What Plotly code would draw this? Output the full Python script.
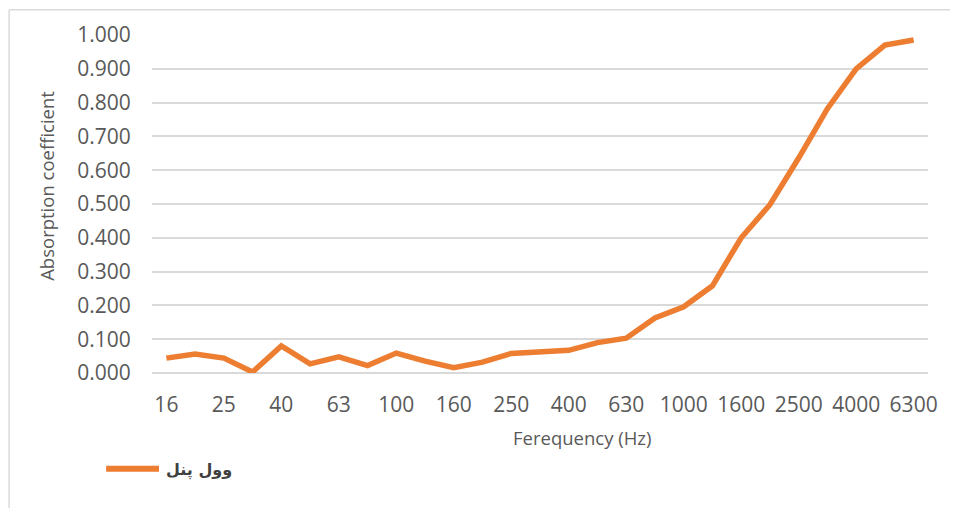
import plotly.graph_objects as go

freqs = ["16", "20", "25", "31.5", "40", "50", "63", "80", "100", "125", "160", "200",
         "250", "315", "400", "500", "630", "800", "1000", "1250", "1600", "2000",
         "2500", "3150", "4000", "5000", "6300"]
absorption = [0.044, 0.056, 0.044, 0.003, 0.080, 0.027, 0.048, 0.022, 0.059, 0.035,
              0.016, 0.032, 0.058, 0.061, 0.067, 0.090, 0.103, 0.163, 0.196, 0.258,
              0.400, 0.498, 0.636, 0.782, 0.900, 0.970, 0.985]
tick_labels = ["16", "25", "40", "63", "100", "160", "250", "400", "630", "1000",
               "1600", "2500", "4000", "6300"]
y_ticks = [0.0, 0.1, 0.2, 0.3, 0.4, 0.5, 0.6, 0.7, 0.8, 0.9, 1.0]
series_name = "وول پنل"
x_title = "Ferequency (Hz)"
y_title = "Absorption coefficient"

# page has an 8px body margin; figure sized to fit the 958x516 window
OFF = 8
W, H = 958 - 2 * OFF, 516 - 2 * OFF
L, T = 152 - OFF, 34 - OFF
R = W - (930 - OFF)
B = H - (373 - OFF)
pw, ph = W - L - R, H - T - B

def px_x(p):
    return (p - OFF - L) / pw

def px_y(p):
    return (H - B - (p - OFF)) / ph

LINE_COLOR = "#ED7D31"
TEXT_COLOR = "#595959"

fig = go.Figure()
fig.add_trace(go.Scatter(
    x=freqs, y=absorption, mode="lines", name=series_name,
    line=dict(color=LINE_COLOR, width=5.5, shape="linear"),
    showlegend=False,
))

font_tick = dict(family="Open Sans, Liberation Sans, sans-serif", size=21, color=TEXT_COLOR)
font_title = dict(family="Open Sans, Liberation Sans, sans-serif", size=18.5, color=TEXT_COLOR)
fig.update_layout(
    width=W, height=H,
    margin=dict(l=L, r=R, t=T, b=B),
    paper_bgcolor="white", plot_bgcolor="white",
    showlegend=False,
    xaxis=dict(
        type="category", categoryorder="array", categoryarray=freqs,
        range=[-0.5, len(freqs) - 0.5],
        tickmode="array", tickvals=tick_labels, ticktext=tick_labels,
        tickfont=font_tick, showgrid=False, zeroline=False, showline=False,
        ticks="outside", ticklen=13, tickcolor="rgba(0,0,0,0)",
    ),
    yaxis=dict(
        range=[0, 1.0], tickmode="array", tickvals=y_ticks,
        tickformat=".3f", tickfont=font_tick,
        showgrid=True, gridcolor="#D9D9D9", gridwidth=1.5,
        zeroline=True, zerolinecolor="#D9D9D9", zerolinewidth=1.5,
        showline=False, ticks="outside", ticklen=16, tickcolor="rgba(0,0,0,0)",
    ),
)

# axis titles (placed as in the reference, which is off-centre)
fig.add_annotation(xref="paper", yref="paper", x=px_x(583), y=px_y(437.5),
                   xanchor="center", yanchor="middle", showarrow=False,
                   text=x_title, font=font_title)
fig.add_annotation(xref="paper", yref="paper", x=px_x(46), y=px_y(185),
                   xanchor="center", yanchor="middle", showarrow=False,
                   textangle=-90, text=y_title, font=font_title)

# legend (line sample + label), drawn as in the reference
fig.add_shape(type="line", xref="paper", yref="paper",
              x0=px_x(106), x1=px_x(159), y0=px_y(469), y1=px_y(469),
              line=dict(color=LINE_COLOR, width=6))
fig.add_annotation(xref="paper", yref="paper", x=px_x(164), y=px_y(470),
                   xanchor="left", yanchor="middle", showarrow=False,
                   text="<b>" + series_name + "</b>",
                   font=dict(family="DejaVu Sans, Noto Sans, sans-serif", size=16, color="#404040"))

# chart-area border (left and top visible in the reference)
fig.add_shape(type="line", xref="paper", yref="paper",
              x0=px_x(8.75), x1=px_x(8.75), y0=px_y(520), y1=px_y(8.75),
              line=dict(color="#D9D9D9", width=1.5))
fig.add_shape(type="line", xref="paper", yref="paper",
              x0=px_x(8.75), x1=px_x(960), y0=px_y(8.75), y1=px_y(8.75),
              line=dict(color="#D9D9D9", width=1.5))

fig.write_html("out.html")
